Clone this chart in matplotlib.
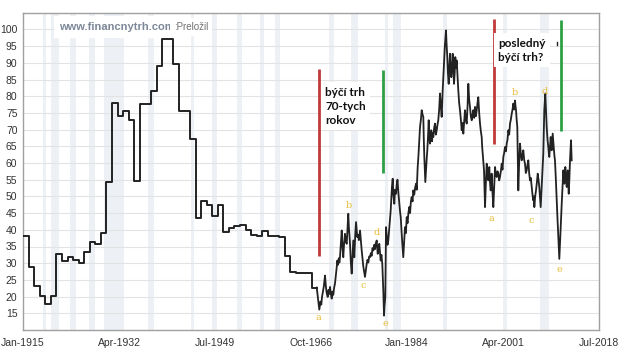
import matplotlib
matplotlib.use("Agg")
import matplotlib.pyplot as plt

# ---------------- data ----------------
annual_years = list(range(1915, 1968))
annual_values = [38.0, 29.0, 23.3, 20.2, 17.7, 20.1, 32.8, 30.6, 31.8, 31.1,
                 30.1, 33.5, 36.3, 35.6, 39.0, 54.3, 77.9, 74.2, 75.7, 73.0,
                 54.6, 77.8, 77.8, 81.5, 89.0, 97.2, 97.2, 89.7, 75.7, 75.7,
                 67.3, 43.6, 48.6, 47.3, 44.1, 47.3, 39.3, 40.6, 41.0, 41.5,
                 39.8, 38.3, 38.0, 39.6, 38.2, 38.2, 37.8, 32.3, 27.5, 27.2,
                 27.2, 27.2, 22.7]

# (decimal year, value) pairs of the later, denser part of the series
monthly_points = [
    (1967.78, 22.7), (1968.0, 19.5), (1968.24, 16.1), (1968.45, 18.5), (1968.6, 17.6),
    (1968.73, 19.9), (1968.9, 21.5), (1969.05, 23.0), (1969.27, 26.3), (1969.4, 23.5),
    (1969.55, 21.2), (1969.75, 19.9), (1969.9, 22.0), (1970.05, 20.8), (1970.16, 22.9),
    (1970.3, 21.0), (1970.47, 19.4), (1970.6, 21.5), (1970.75, 20.5), (1970.9, 22.6),
    (1971.06, 23.9), (1971.2, 26.0), (1971.35, 28.5), (1971.48, 30.8), (1971.6, 29.5),
    (1971.75, 31.5), (1971.85, 30.2), (1971.96, 31.8), (1972.1, 35.5), (1972.2, 38.0),
    (1972.27, 39.8), (1972.4, 35.0), (1972.55, 31.8), (1972.7, 36.0), (1972.86, 38.8),
    (1973.0, 36.5), (1973.17, 35.8), (1973.3, 40.0), (1973.45, 44.8), (1973.55, 41.0),
    (1973.65, 38.5), (1973.76, 35.8), (1973.9, 30.5), (1974.06, 26.9), (1974.2, 32.0),
    (1974.35, 36.8), (1974.45, 34.0), (1974.53, 31.8), (1974.7, 38.5), (1974.84, 42.3),
    (1974.95, 40.0), (1975.07, 37.8), (1975.2, 38.5), (1975.35, 36.9), (1975.56, 39.8),
    (1975.7, 37.0), (1975.86, 33.8), (1976.0, 31.5), (1976.15, 29.0), (1976.3, 27.5),
    (1976.45, 25.9), (1976.6, 27.8), (1976.76, 29.8), (1976.9, 31.0), (1977.05, 30.2),
    (1977.2, 32.0), (1977.35, 31.8), (1977.5, 33.0), (1977.65, 32.2), (1977.8, 34.5),
    (1977.95, 33.8), (1978.1, 35.5), (1978.25, 34.2), (1978.4, 36.0), (1978.56, 36.8),
    (1978.65, 34.5), (1978.74, 32.8), (1978.88, 34.5), (1979.02, 35.8), (1979.15, 33.0),
    (1979.27, 30.8), (1979.4, 32.5), (1979.56, 29.8), (1979.65, 26.0), (1979.75, 21.5),
    (1979.87, 14.3), (1979.95, 17.0), (1980.10, 19.9), (1980.17, 30.0), (1980.23, 40.8),
    (1980.35, 38.5), (1980.5, 35.5), (1980.64, 36.8), (1980.8, 40.0), (1980.95, 43.0),
    (1981.07, 45.8), (1981.2, 50.0), (1981.3, 53.0), (1981.43, 55.3), (1981.55, 50.5),
    (1981.72, 47.8), (1981.85, 52.0), (1982.02, 50.8), (1982.15, 53.5), (1982.29, 55.0),
    (1982.45, 51.0), (1982.62, 47.8), (1982.75, 45.5), (1982.87, 43.8), (1983.0, 40.0),
    (1983.15, 36.0), (1983.33, 31.8), (1983.5, 37.0), (1983.64, 40.8), (1983.8, 39.0),
    (1983.95, 43.8), (1984.1, 42.0), (1984.25, 45.0), (1984.41, 46.8), (1984.55, 45.0),
    (1984.7, 48.5), (1984.84, 49.8), (1985.0, 48.5), (1985.13, 51.8), (1985.3, 50.5),
    (1985.45, 52.5), (1985.62, 53.8), (1985.75, 52.0), (1985.92, 58.8), (1986.05, 62.0),
    (1986.2, 66.5), (1986.34, 70.8), (1986.5, 73.0), (1986.64, 75.8), (1986.8, 74.5),
    (1986.93, 73.8), (1987.02, 67.0), (1987.11, 61.8), (1987.2, 58.0), (1987.29, 54.3),
    (1987.45, 59.0), (1987.55, 61.5), (1987.65, 63.8), (1987.78, 68.0), (1987.90, 72.8),
    (1988.0, 68.0), (1988.13, 65.8), (1988.25, 68.5), (1988.37, 69.8), (1988.5, 66.5),
    (1988.6, 69.0), (1988.73, 67.8), (1988.88, 70.5), (1989.03, 71.8), (1989.18, 68.5),
    (1989.34, 69.8), (1989.48, 71.5), (1989.62, 72.8), (1989.78, 76.0), (1989.93, 80.8),
    (1990.08, 77.0), (1990.23, 73.8), (1990.32, 78.0), (1990.41, 81.7), (1990.53, 86.0),
    (1990.65, 90.7), (1990.8, 95.0), (1990.92, 97.5), (1991.01, 99.7), (1991.1, 96.0),
    (1991.24, 91.7), (1991.35, 87.0), (1991.49, 83.7), (1991.6, 88.5), (1991.73, 92.7),
    (1991.85, 88.0), (1991.96, 85.7), (1992.1, 89.0), (1992.21, 92.7), (1992.33, 87.5),
    (1992.45, 83.7), (1992.57, 87.0), (1992.68, 91.7), (1992.8, 88.5), (1992.93, 90.7),
    (1993.08, 86.0), (1993.22, 81.7), (1993.37, 78.0), (1993.52, 75.8), (1993.68, 73.0),
    (1993.83, 69.8), (1993.97, 72.0), (1994.12, 68.8), (1994.27, 72.5), (1994.42, 75.8),
    (1994.57, 73.0), (1994.73, 71.8), (1994.88, 77.0), (1995.02, 83.7), (1995.17, 79.0),
    (1995.32, 76.8), (1995.47, 74.0), (1995.63, 72.8), (1995.77, 74.5), (1995.91, 75.8),
    (1996.07, 73.5), (1996.22, 76.8), (1996.37, 74.0), (1996.53, 75.8), (1996.67, 78.0),
    (1996.81, 79.7), (1996.97, 75.0), (1997.12, 71.8), (1997.27, 69.5), (1997.42, 67.8),
    (1997.50, 65.0), (1997.60, 62.8), (1997.72, 60.0), (1997.84, 57.8), (1997.93, 52.0),
    (1998.02, 46.8), (1998.15, 53.0), (1998.32, 59.8), (1998.47, 56.5), (1998.61, 54.8),
    (1998.7, 57.5), (1998.79, 58.8), (1998.92, 54.0), (1999.04, 51.8), (1999.13, 54.5),
    (1999.22, 56.8), (1999.37, 51.0), (1999.51, 46.8), (1999.67, 53.0), (1999.82, 58.8),
    (1999.97, 56.5), (2000.12, 55.8), (2000.27, 57.5), (2000.41, 56.8), (2000.56, 54.8),
    (2000.71, 55.8), (2000.86, 57.5), (2001.02, 59.8), (2001.16, 58.0), (2001.31, 61.8),
    (2001.46, 63.0), (2001.61, 64.8), (2001.77, 63.5), (2001.92, 65.8), (2002.06, 67.0),
    (2002.21, 69.8), (2002.36, 68.5), (2002.51, 71.8), (2002.66, 73.0), (2002.82, 74.8),
    (2002.96, 76.0), (2003.10, 77.8), (2003.25, 76.0), (2003.41, 78.7), (2003.50, 77.0),
    (2003.59, 75.8), (2003.7, 73.0), (2003.82, 70.8), (2003.9, 62.0), (2004.00, 51.8),
    (2004.15, 60.0), (2004.31, 65.8), (2004.46, 62.5), (2004.61, 60.8), (2004.75, 62.5),
    (2004.90, 63.8), (2005.05, 61.0), (2005.20, 59.8), (2005.35, 57.0), (2005.51, 57.8),
    (2005.65, 59.5), (2005.80, 60.8), (2005.95, 57.0), (2006.10, 54.8), (2006.25, 55.5),
    (2006.41, 52.8), (2006.55, 50.5), (2006.70, 48.8), (2006.80, 50.0), (2006.88, 46.8),
    (2007.03, 50.0), (2007.18, 51.8), (2007.33, 54.0), (2007.49, 56.8), (2007.63, 55.0),
    (2007.77, 52.8), (2007.9, 49.5), (2008.02, 46.8), (2008.14, 51.0), (2008.26, 55.8),
    (2008.38, 59.5), (2008.49, 62.8), (2008.58, 69.0), (2008.67, 75.8), (2008.76, 78.5),
    (2008.85, 80.8), (2008.97, 76.0), (2009.10, 70.8), (2009.25, 67.0), (2009.39, 64.8),
    (2009.48, 63.0), (2009.57, 61.8), (2009.7, 65.0), (2009.82, 67.8), (2009.91, 65.0),
    (2010.00, 63.8), (2010.09, 66.5), (2010.18, 68.8), (2010.3, 66.0), (2010.41, 63.8),
    (2010.5, 62.0), (2010.59, 60.8), (2010.75, 55.0), (2010.90, 48.8), (2011.05, 43.0),
    (2011.19, 37.8), (2011.28, 34.5), (2011.37, 31.3), (2011.5, 36.0), (2011.62, 40.8),
    (2011.71, 44.5), (2011.80, 47.8), (2011.89, 51.0), (2011.98, 53.8), (2012.09, 57.8),
    (2012.18, 55.5), (2012.27, 53.8), (2012.36, 56.5), (2012.45, 58.8), (2012.58, 55.0),
    (2012.70, 52.8), (2012.79, 55.5), (2012.88, 57.8), (2012.97, 54.0), (2013.06, 50.8),
    (2013.17, 55.0), (2013.29, 60.8), (2013.38, 64.0), (2013.47, 66.8), (2013.59, 60.8),
]
monthly_years = [p[0] for p in monthly_points]
monthly_values = [p[1] for p in monthly_points]

recessions = [(1918.6, 1919.2), (1920.0, 1921.5), (1923.4, 1924.5), (1926.8, 1927.9),
              (1929.6, 1933.2), (1937.4, 1938.5), (1945.1, 1945.8), (1948.9, 1949.8),
              (1953.5, 1954.4), (1957.6, 1958.3), (1960.3, 1961.1), (1969.9, 1970.9),
              (1973.9, 1975.2), (1980.0, 1980.5), (1981.5, 1982.9), (1990.5, 1991.2),
              (2001.2, 2001.9), (2007.9, 2009.5)]

tick_positions = [1915.0, 1932.25, 1949.5, 1966.75, 1984.0, 2001.25, 2018.5]
tick_labels = ["Jan-1915", "Apr-1932", "Jul-1949", "Oct-1966", "Jan-1984", "Apr-2001", "Jul-2018"]
y_ticks = list(range(15, 101, 5))

# annotation lines: (x, y_low, y_high, colour)
marker_lines = [(1968.1, 32.3, 88.0, "#c0393b"), (1979.75, 57.0, 87.9, "#2ea043"),
                (1999.7, 65.6, 103.2, "#c0393b"), (2011.7, 69.6, 102.7, "#2ea043")]
wave_labels = ["a", "b", "c", "d", "e", "a", "b", "c", "d", "e"]
wave_x = [1968.1, 1973.6, 1976.2, 1978.6, 1980.2, 1999.2, 2003.4, 2006.4, 2008.8, 2011.4]
wave_y = [13.8, 47.3, 23.4, 39.2, 12.0, 43.4, 81.2, 42.8, 81.4, 28.1]

# ---------------- figure ----------------
fig = plt.figure(figsize=(6.21, 3.55), dpi=100)
ax = fig.add_axes([23 / 621, 1 - 330 / 355, 576 / 621, (330 - 12.7) / 355])
ax.set_xlim(1915.0, 2018.5)
ax.set_ylim(10, 105)

for (s, e) in recessions:
    ax.axvspan(s, e, color="#edf0f4", lw=0, zorder=0)

for y in y_ticks:
    ax.axhline(y, color="#e3e3e3", lw=0.8, zorder=1)

# series
ax.plot(annual_years + [monthly_years[0]], annual_values + [annual_values[-1]],
        drawstyle="steps-post", color="#222222", lw=1.4, zorder=3)
ax.plot(monthly_years, monthly_values, color="#222222", lw=1.3, zorder=3)

for (x, y0, y1, c) in marker_lines:
    ax.plot([x, x], [y0, y1], color=c, lw=2.0, zorder=4, solid_capstyle="butt")

for t, x, y in zip(wave_labels, wave_x, wave_y):
    ax.text(x, y, t, color="#e8bd3a", fontsize=7, ha="center", va="center",
            family="DejaVu Serif", zorder=5)

# text boxes
ax.text(1969.3, 77.0, "býčí trh\n70-tych\nrokov", fontsize=8.5, fontweight="bold",
        family="Lato", ha="left", va="center", linespacing=1.35, color="#111111",
        bbox=dict(facecolor="white", edgecolor="none", pad=3), zorder=5)
ax.text(2000.4, 93.8, "posledný\nbýčí trh?", fontsize=8.5, fontweight="bold",
        family="Lato", ha="left", va="center", linespacing=1.35, color="#111111",
        bbox=dict(facecolor="white", edgecolor="none", pad=3), zorder=5)
ax.plot([2011.0, 2011.0], [95.3, 96.3], color="#222222", lw=1.0, zorder=5)

# watermark
ax.text(0.063, 0.955, "www.financnytrh.com", transform=ax.transAxes, fontsize=8,
        fontweight="bold", color="#7d8898", family="Liberation Sans", ha="left", va="center",
        bbox=dict(facecolor="white", edgecolor="none", pad=4), zorder=6)
ax.text(0.262, 0.955, ":Preložil", transform=ax.transAxes, fontsize=7,
        color="#707070", family="Liberation Sans", ha="left", va="center",
        bbox=dict(facecolor="white", edgecolor="none", pad=3), zorder=6)

ax.set_xticks(tick_positions)
ax.set_xticklabels(tick_labels)
ax.set_yticks(y_ticks)
ax.set_yticklabels([str(v) for v in y_ticks])
ax.tick_params(axis="both", length=0, labelsize=7.5, labelcolor="#333333")
ax.tick_params(axis="y", pad=4)
ax.tick_params(axis="x", pad=6)
for lab in ax.get_xticklabels() + ax.get_yticklabels():
    lab.set_family("Liberation Sans")

for sp in ax.spines.values():
    sp.set_color("#a0a0a0")
    sp.set_linewidth(1.0)

fig.savefig("out.png", dpi=100)
